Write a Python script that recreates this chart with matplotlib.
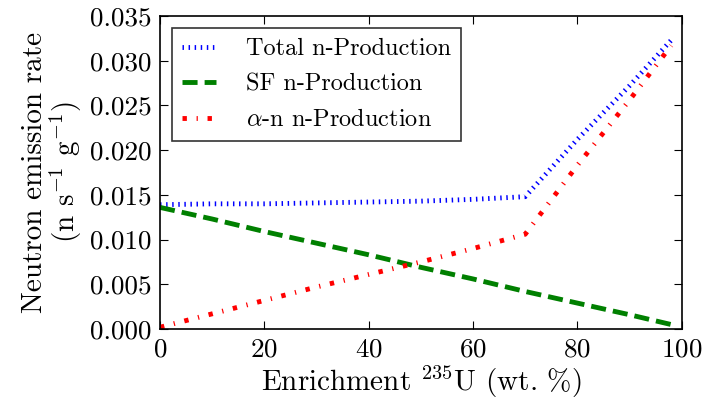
import matplotlib
matplotlib.use("Agg")
import matplotlib.pyplot as plt
from matplotlib.ticker import FormatStrFormatter

#######################################
#### Data
#######################################
enrich = [0, 10, 20, 30, 40, 50, 60, 70, 80, 90, 98]
sf_n    = [0.0136, 0.0123, 0.0109, 0.0096, 0.0083, 0.0069, 0.0056, 0.0042, 0.0029, 0.0016, 0.0005]
alpha_n = [0.0002, 0.0017, 0.0032, 0.0047, 0.0061, 0.0075, 0.0090, 0.0106, 0.0183, 0.0256, 0.0317]
total_n = [0.0139, 0.0140, 0.0140, 0.0141, 0.0142, 0.0143, 0.0145, 0.0148, 0.0212, 0.0272, 0.0323]

xticks = [0, 20, 40, 60, 80, 100]
yticks = [0.000, 0.005, 0.010, 0.015, 0.020, 0.025, 0.030, 0.035]

#######################################
#### Style
#######################################
plt.rcParams['font.family'] = ['cmr10', 'DejaVu Serif']
plt.rcParams['mathtext.fontset'] = 'cm'
plt.rcParams['axes.unicode_minus'] = False
plt.rcParams['axes.formatter.use_mathtext'] = True

fig = plt.figure(figsize=(7.02, 4.07), dpi=100)
ax = fig.add_axes([0.228, 0.1916, 0.743, 0.769])

lw = 3.5
ax.plot(enrich, total_n, color='blue', lw=lw, dashes=(0.3, 0.95), label='Total n-Production')
ax.plot(enrich, sf_n, color='green', lw=lw, dashes=(3.1, 1.45), label='SF n-Production')
ax.plot(enrich, alpha_n, color='red', lw=lw, dashes=(0.9, 2.0, 0.25, 2.0), label=r'$\alpha$-n n-Production')

ax.set_xlim(0, 100)
ax.set_ylim(0, 0.035)
ax.set_xticks(xticks)
ax.set_yticks(yticks)
ax.yaxis.set_major_formatter(FormatStrFormatter('%.3f'))
ax.tick_params(direction='in', top=True, right=True, length=6, width=0.8, labelsize=19.5, pad=6)
for s in ax.spines.values():
   s.set_linewidth(1.2)

ax.set_xlabel(r'Enrichment $^{235}$U (wt. %)', fontsize=21, labelpad=2)
ax.set_ylabel('Neutron emission rate\n(n s$^{-1}$ g$^{-1}$)', fontsize=21, labelpad=4, linespacing=1.0)

leg = ax.legend(loc='upper left', fontsize=17.5, fancybox=False, edgecolor='black',
                handlelength=1.4, borderpad=0.4, labelspacing=0.55, handletextpad=1.25,
                borderaxespad=0.5)
leg.get_frame().set_linewidth(1.2)

fig.savefig('out.png', dpi=100, facecolor='white')
